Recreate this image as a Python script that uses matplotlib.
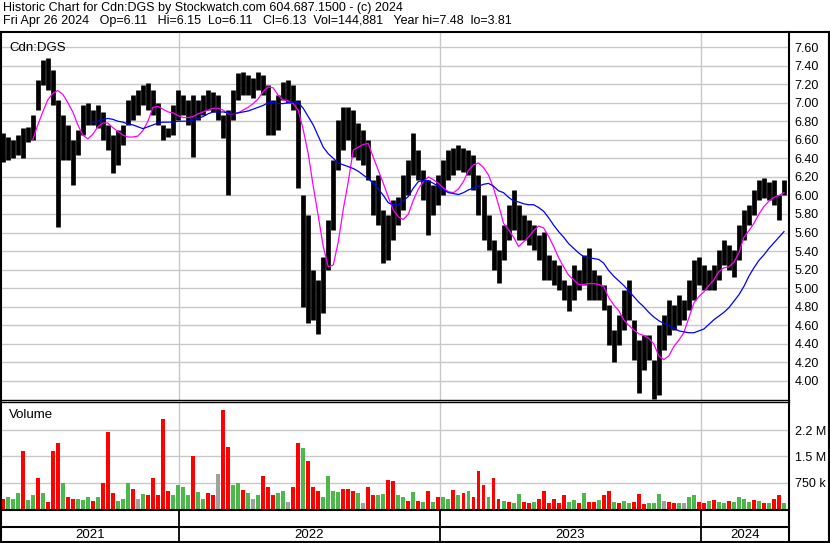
import numpy as np
import pandas as pd
import matplotlib
matplotlib.use('Agg')
import matplotlib.pyplot as plt
from matplotlib.lines import Line2D

plt.rcParams['font.family'] = ['Liberation Sans', 'DejaVu Sans']

# weekly high / low (Cdn:DGS, end of Apr 2021 .. 26 Apr 2024)
price_hi = [6.67, 6.63, 6.60, 6.65, 6.73, 6.74, 6.87, 7.24, 7.46, 7.48,
            7.35, 7.03, 6.87, 6.76, 6.60, 6.71, 6.97, 7.00, 6.92, 6.97,
            6.90, 6.76, 6.65, 6.71, 6.76, 7.03, 7.08, 7.14, 7.19, 7.21,
            7.14, 7.00, 6.76, 6.73, 6.97, 7.14, 7.08, 7.03, 7.08, 7.03,
            7.08, 7.14, 7.11, 7.08, 6.87, 6.92, 7.14, 7.32, 7.33, 7.30,
            7.27, 7.33, 7.30, 7.19, 7.03, 7.08, 7.22, 7.24, 7.19, 7.03,
            6.00, 5.79, 5.20, 5.09, 5.34, 5.74, 6.38, 6.81, 6.95, 6.95,
            6.92, 6.78, 6.71, 6.60, 6.17, 6.22, 5.84, 5.79, 5.95, 5.98,
            6.22, 6.38, 6.67, 6.49, 6.27, 6.17, 6.11, 6.22, 6.38, 6.49,
            6.51, 6.54, 6.51, 6.49, 6.44, 6.22, 6.00, 5.79, 5.52, 5.41,
            5.68, 5.90, 6.06, 5.90, 5.79, 5.74, 5.68, 5.57, 5.61, 5.36,
            5.30, 5.25, 5.09, 5.04, 5.25, 5.20, 5.36, 5.43, 5.20, 5.14,
            5.04, 4.82, 4.55, 4.71, 4.98, 5.09, 4.66, 4.44, 4.50, 4.50,
            4.23, 4.60, 4.71, 4.87, 4.82, 4.93, 4.87, 5.09, 5.30, 5.34,
            5.25, 5.20, 5.25, 5.41, 5.52, 5.47, 5.41, 5.68, 5.84, 5.90,
            6.06, 6.17, 6.19, 6.14, 6.17, 6.00, 6.17]
price_lo = [6.36, 6.38, 6.40, 6.44, 6.40, 6.58, 6.60, 6.92, 7.19, 7.14,
            6.98, 5.66, 6.38, 6.38, 6.11, 6.44, 6.65, 6.76, 6.76, 6.73,
            6.60, 6.49, 6.24, 6.33, 6.54, 6.76, 6.81, 6.87, 6.97, 6.92,
            6.87, 6.76, 6.60, 6.63, 6.65, 6.81, 6.87, 6.76, 6.41, 6.81,
            6.87, 6.92, 6.90, 6.81, 6.62, 6.00, 6.81, 7.03, 7.08, 7.08,
            7.05, 7.14, 7.08, 6.65, 6.65, 6.71, 7.03, 7.00, 6.92, 6.08,
            4.80, 4.62, 4.66, 4.51, 4.73, 5.20, 5.63, 6.27, 6.49, 6.60,
            6.41, 6.38, 6.33, 6.17, 5.79, 5.68, 5.27, 5.30, 5.52, 5.68,
            5.84, 6.00, 6.22, 6.17, 5.95, 5.57, 5.79, 5.90, 6.00, 6.17,
            6.22, 6.27, 6.25, 6.22, 6.06, 5.79, 5.52, 5.41, 5.20, 5.06,
            5.30, 5.52, 5.63, 5.52, 5.52, 5.47, 5.41, 5.30, 5.09, 5.09,
            5.04, 4.98, 4.87, 4.75, 4.87, 4.98, 5.04, 4.87, 4.87, 4.87,
            4.77, 4.39, 4.21, 4.39, 4.55, 4.66, 4.23, 3.87, 4.12, 4.23,
            3.81, 3.85, 4.33, 4.50, 4.55, 4.60, 4.66, 4.77, 4.87, 5.04,
            4.98, 4.98, 4.98, 5.09, 5.25, 5.20, 5.12, 5.30, 5.52, 5.68,
            5.79, 5.95, 5.97, 5.95, 5.90, 5.74, 6.01]

# moving averages (magenta = short, blue = long), aligned to the last weeks
ma_fast = [6.60, 6.76, 6.90, 7.03, 7.10, 7.13, 7.09, 7.00, 6.90, 6.76,
           6.65, 6.61, 6.66, 6.74, 6.78, 6.78, 6.73, 6.69, 6.65, 6.63,
           6.63, 6.64, 6.70, 6.80, 6.95, 6.96, 6.93, 6.90, 6.89, 6.86,
           6.84, 6.84, 6.85, 6.88, 6.90, 6.92, 6.94, 6.94, 6.92, 6.88,
           6.88, 6.89, 6.92, 6.95, 6.99, 7.04, 7.12, 7.17, 7.16, 7.08,
           7.03, 7.02, 6.99, 6.92, 6.71, 6.45, 6.10, 5.78, 5.45, 5.23,
           5.25, 5.50, 5.85, 6.15, 6.49, 6.52, 6.55, 6.56, 6.41, 6.27,
           6.13, 5.98, 5.84, 5.77, 5.74, 5.80, 5.95, 6.07, 6.15, 6.20,
           6.17, 6.13, 6.08, 6.04, 6.03, 6.07, 6.15, 6.27, 6.33, 6.35,
           6.30, 6.22, 6.08, 5.90, 5.70, 5.63, 5.55, 5.45, 5.50, 5.55,
           5.62, 5.67, 5.65, 5.56, 5.45, 5.33, 5.23, 5.14, 5.09, 5.04,
           5.04, 5.05, 5.05, 5.04, 5.02, 4.90, 4.82, 4.76, 4.66, 4.60,
           4.55, 4.51, 4.49, 4.46, 4.40, 4.27, 4.23, 4.27, 4.37, 4.44,
           4.52, 4.68, 4.84, 4.91, 4.96, 5.03, 5.09, 5.18, 5.22, 5.23,
           5.28, 5.38, 5.55, 5.62, 5.70, 5.80, 5.88, 5.94, 5.98, 6.00,
           6.03]
ma_slow = [6.79, 6.80, 6.82, 6.83, 6.82, 6.80, 6.79, 6.77, 6.76, 6.74,
           6.72, 6.74, 6.76, 6.78, 6.79, 6.79, 6.79, 6.80, 6.80, 6.80,
           6.81, 6.83, 6.85, 6.88, 6.90, 6.90, 6.90, 6.89, 6.88, 6.89,
           6.90, 6.91, 6.93, 6.95, 6.97, 7.00, 7.00, 6.99, 6.99, 7.00,
           7.01, 7.00, 6.94, 6.85, 6.76, 6.64, 6.52, 6.45, 6.40, 6.35,
           6.33, 6.31, 6.29, 6.26, 6.22, 6.18, 6.13, 6.07, 6.00, 5.92,
           5.90, 5.90, 5.94, 5.99, 6.08, 6.15, 6.16, 6.16, 6.13, 6.10,
           6.06, 6.03, 6.02, 6.01, 6.03, 6.06, 6.08, 6.10, 6.12, 6.13,
           6.10, 6.05, 6.03, 5.98, 5.94, 5.93, 5.91, 5.90, 5.90, 5.87,
           5.83, 5.76, 5.68, 5.61, 5.55, 5.48, 5.43, 5.38, 5.34, 5.33,
           5.32, 5.31, 5.27, 5.19, 5.13, 5.08, 5.03, 4.97, 4.91, 4.85,
           4.80, 4.74, 4.69, 4.65, 4.62, 4.60, 4.57, 4.54, 4.53, 4.52,
           4.52, 4.54, 4.56, 4.61, 4.66, 4.70, 4.74, 4.79, 4.86, 4.93,
           5.02, 5.13, 5.22, 5.30, 5.36, 5.43, 5.49, 5.55, 5.61]

# weekly volume (thousands) and bar colour (r = down, g = up, k = unchanged)
volume = [290, 350, 290, 460, 1640, 260, 400, 870, 460, 200,
          1640, 1880, 750, 350, 290, 290, 260, 350, 230, 350,
          750, 2190, 460, 230, 290, 750, 580, 290, 430, 400,
          870, 400, 2570, 520, 400, 690, 640, 400, 1500, 490,
          290, 460, 400, 1000, 2830, 1760, 690, 750, 550, 460,
          290, 400, 950, 640, 400, 460, 520, 200, 640, 1880,
          1730, 1360, 640, 520, 350, 950, 520, 490, 580, 580,
          520, 460, 170, 640, 400, 400, 430, 830, 800, 400,
          350, 230, 490, 230, 200, 520, 200, 350, 350, 290,
          550, 400, 460, 520, 350, 1070, 690, 350, 870, 290,
          230, 200, 170, 430, 200, 170, 200, 290, 520, 170,
          290, 170, 400, 200, 260, 170, 460, 200, 200, 260,
          400, 520, 200, 170, 230, 170, 200, 430, 140, 170,
          170, 430, 230, 200, 170, 170, 170, 350, 400, 200,
          170, 230, 260, 200, 170, 230, 200, 350, 290, 200,
          260, 230, 170, 170, 290, 400, 170]
vol_dir = ('rgggrggrgr' 'rrgrrgggrg' 'rrrgggrkgr' 'rrrrgggg rg'.replace(' ', '') +
           'grrkrrggrg' 'kgrrrggkrr' 'grrrgggg rr'.replace(' ', '') + 'rgkrrggrrg' +
           'grgrgrgrgg' 'rgrgrrrgrr' 'grgg rrgrrr'.replace(' ', '') + 'rrrgg rgrrg'.replace(' ', '') +
           'rrgrggrrrg' 'ggkrrgkggr' 'rgrggrgggg' 'rgrgrrg')

price_ticks = [4.00, 4.20, 4.40, 4.60, 4.80, 5.00, 5.20, 5.40, 5.60, 5.80,
               6.00, 6.20, 6.40, 6.60, 6.80, 7.00, 7.20, 7.40, 7.60]
vol_ticks = [750, 1500, 2250]
vol_labels = ['750 k', '1.5 M', '2.2 M']
years = ['2021', '2022', '2023', '2024']

title1 = 'Historic Chart for Cdn:DGS by Stockwatch.com 604.687.1500 - (c) 2024'
title2 = ('Fri Apr 26 2024   Op=6.11   Hi=6.15  Lo=6.11   Cl=6.13  '
          'Vol=144,881   Year hi=7.48  lo=3.81')

weeks = pd.date_range('2021-04-30', '2024-04-26', freq='7D')
x_start, x_end = pd.Timestamp('2021-04-29'), pd.Timestamp('2024-05-03')
year_starts = [pd.Timestamp(f'{y}-01-01') for y in years[1:]]

W, H = 830, 543
GRID = '#c8c8c8'
COLS = {'r': '#ff0000', 'g': '#4cb84c', 'k': '#a0a0a0'}


def rect(x0, y0, x1, y1):
    return [x0 / W, 1 - y1 / H, (x1 - x0) / W, (y1 - y0) / H]


def fline(xs, ys, lw=1.5):
    fig.add_artist(Line2D([x / W for x in xs], [1 - y / H for y in ys],
                          transform=fig.transFigure, color='black', lw=lw))


fig = plt.figure(figsize=(W / 100, H / 100), dpi=100)
fig.patch.set_facecolor('white')

# price panel
ax = fig.add_axes(rect(2, 33, 789, 400))
ax.vlines(weeks, price_lo, price_hi, color='black', lw=3.4, zorder=3)
ax.plot(weeks[-len(ma_fast):], ma_fast, color='#ff00ff', lw=0.9, zorder=4)
ax.plot(weeks[-len(ma_slow):], ma_slow, color='#0000ff', lw=0.9, zorder=4)
ax.set_xlim(x_start, x_end)
ax.set_ylim(3.795, 7.751)
ax.set_yticks(price_ticks)
ax.set_yticklabels([f'{v:.2f}' for v in price_ticks])
ax.yaxis.tick_right()
ax.set_xticks(year_starts)
ax.set_xticklabels([])
ax.tick_params(length=0, pad=4, labelsize=9)
ax.grid(True, color=GRID, lw=1)
ax.set_axisbelow(True)
for s in ax.spines.values():
    s.set_visible(False)
ax.text(0.009, 0.975, 'Cdn:DGS', transform=ax.transAxes, ha='left', va='top', fontsize=9.5)

# volume panel
axv = fig.add_axes(rect(2, 402, 789, 509))
axv.bar(weeks, volume, width=5.5, color=[COLS[c] for c in vol_dir], zorder=3)
axv.set_xlim(x_start, x_end)
axv.set_ylim(0, 3050)
axv.set_yticks(vol_ticks)
axv.set_yticklabels(vol_labels)
axv.yaxis.tick_right()
axv.set_xticks(year_starts)
axv.set_xticklabels([])
axv.tick_params(length=0, pad=4, labelsize=9)
axv.grid(True, color=GRID, lw=1)
axv.set_axisbelow(True)
for s in axv.spines.values():
    s.set_visible(False)
axv.text(0.009, 0.93, 'Volume', transform=axv.transAxes, ha='left', va='top', fontsize=9.5)

# date band
axd = fig.add_axes(rect(2, 509, 789, 542))
axd.set_xlim(x_start, x_end)
axd.set_ylim(0, 1)
axd.axis('off')
for d in year_starts:
    axd.axvline(d, color='black', lw=1.3)
bounds = [x_start] + year_starts + [x_end]
for i, y in enumerate(years):
    mid = bounds[i] + (bounds[i + 1] - bounds[i]) / 2
    axd.text(mid, 0.22, y, ha='center', va='center', fontsize=9.5)

# frame lines
fline([0, 830], [32, 32])
fline([0, 830], [542, 542])
fline([1, 1], [32, 542])
fline([829, 829], [32, 542])
fline([789, 789], [32, 542])
fline([0, 789], [400, 400], lw=1)
fline([0, 789], [402, 402], lw=1)
fline([0, 789], [509.5, 509.5])
fline([0, 789], [527, 527])

fig.text(3 / W, 1 - 11 / H, title1, ha='left', va='baseline', fontsize=9)
fig.text(3 / W, 1 - 24 / H, title2, ha='left', va='baseline', fontsize=9)

fig.savefig('out.png', dpi=100, facecolor='white')
